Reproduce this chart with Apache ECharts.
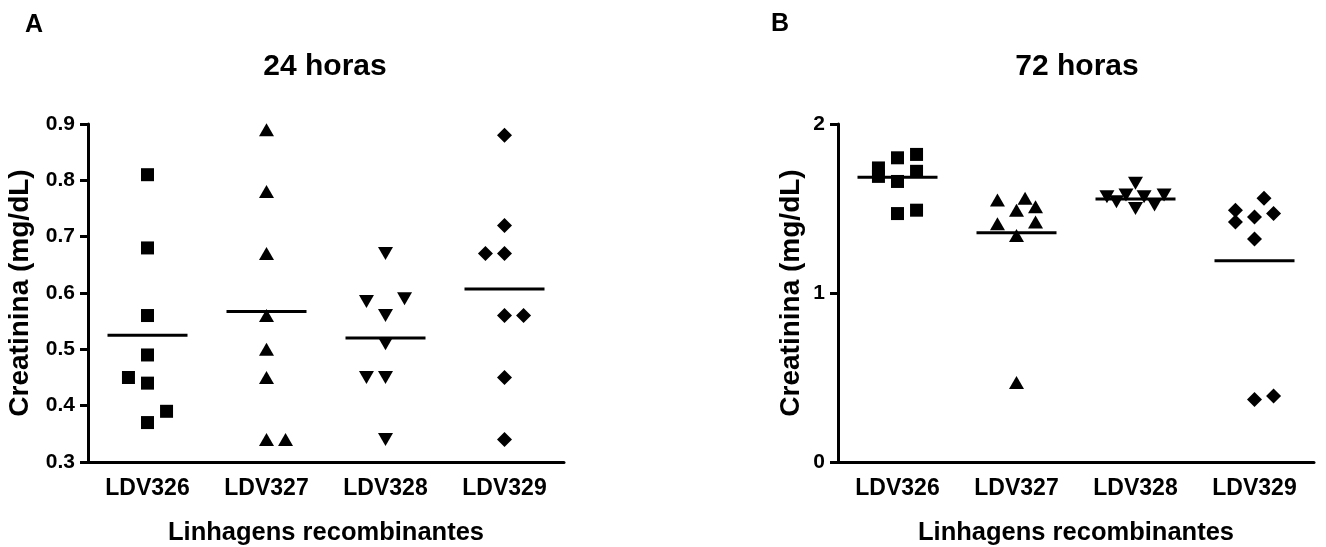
<!DOCTYPE html>
<html>
<head>
<meta charset="utf-8">
<script src="https://cdn.jsdelivr.net/npm/echarts@6/dist/echarts.min.js"></script>
<style>
  html, body { margin: 0; padding: 0; background: #fff; }
  #chart { width: 1326px; height: 547px; }
</style>
</head>
<body>
<div id="chart"></div>
<script>
// Categories (recombinant strains)
const categories = ['LDV326', 'LDV327', 'LDV328', 'LDV329'];

// Panel A - 24 horas (mg/dL), one array per strain
const h24_326 = [0.81, 0.68, 0.56, 0.49, 0.45, 0.44, 0.39, 0.37];
const h24_327 = [0.89, 0.78, 0.67, 0.56, 0.50, 0.45, 0.34, 0.34];
const h24_328 = [0.67, 0.585, 0.59, 0.56, 0.51, 0.45, 0.45, 0.34];
const h24_329 = [0.88, 0.72, 0.67, 0.67, 0.56, 0.56, 0.45, 0.34];
const h24_means = [0.525, 0.567, 0.520, 0.607];

// horizontal spread of the dots (in dot slots) as drawn in the figure
const h24_jit326 = [0, 0, 0, 0, -1, 0, 1, 0];
const h24_jit327 = [0, 0, 0, 0, 0, 0, 0, 1];
const h24_jit328 = [0, -1, 1, 0, 0, -1, 0, 0];
const h24_jit329 = [0, 0, -1, 0, 0, 1, 0, 0];

// Panel B - 72 horas
const h72_326 = [1.74, 1.69, 1.80, 1.82, 1.72, 1.66, 1.47, 1.49];
const h72_327 = [1.55, 1.56, 1.49, 1.51, 1.41, 1.42, 1.34, 0.47];
const h72_328 = [1.65, 1.57, 1.54, 1.58, 1.57, 1.58, 1.50, 1.52];
const h72_329 = [1.56, 1.49, 1.47, 1.45, 1.42, 1.32, 0.37, 0.39];
const h72_means = [1.685, 1.357, 1.556, 1.191];

const h72_jit326 = [-1, -1, 0, 1, 1, 0, 0, 1];
const h72_jit327 = [-1, 0.45, 0, 1, -1, 1, 0, 0];
const h72_jit328 = [0, -1.5, -1, -0.5, 0.45, 1.5, 0, 1];
const h72_jit329 = [0.5, -1, 1, 0, -1, 0, 0, 1];

const SLOT = 0.16; // width of one dot slot, in category units
const FONT = 'Arial, "Liberation Sans", sans-serif';

const symbols = [
    { symbol: 'rect', size: 13, rotate: 0 },
    { symbol: 'triangle', size: [15, 13], rotate: 0 },
    { symbol: 'triangle', size: [15, 13], rotate: 180 },
    { symbol: 'diamond', size: [15, 15], rotate: 0 }
];

function toPoints(catIndex, values, jitter) {
    return values.map((v, i) => [catIndex + jitter[i] * SLOT, v]);
}

function panelSeries(gridIndex, groups, jitters, means) {
    const out = groups.map((vals, c) => ({
        type: 'scatter',
        xAxisIndex: gridIndex * 2 + 1,
        yAxisIndex: gridIndex,
        symbol: symbols[c].symbol,
        symbolSize: symbols[c].size,
        symbolRotate: symbols[c].rotate,
        itemStyle: { color: '#000', opacity: 1 },
        silent: true,
        z: 3,
        data: toPoints(c, vals, jitters[c])
    }));
    // mean bars
    out.push({
        type: 'scatter',
        xAxisIndex: gridIndex * 2 + 1,
        yAxisIndex: gridIndex,
        symbol: 'rect',
        symbolSize: [80, 3],
        itemStyle: { color: '#000', opacity: 1 },
        silent: true,
        z: 4,
        data: means.map((m, c) => [c, m])
    });
    return out;
}

function catAxis(gridIndex) {
    return {
        type: 'category',
        gridIndex: gridIndex,
        data: categories,
        boundaryGap: true,
        name: 'Linhagens recombinantes',
        nameLocation: 'middle',
        nameGap: 58,
        nameTextStyle: { fontFamily: FONT, fontWeight: 'bold', fontSize: 25.5, color: '#000' },
        axisLine: { onZero: false, lineStyle: { color: '#000', width: 3 } },
        axisTick: { alignWithLabel: true, length: 7, lineStyle: { color: '#000', width: 3 } },
        axisLabel: { fontFamily: FONT, fontWeight: 'bold', fontSize: 23, color: '#000', margin: 15 },
        splitLine: { show: false }
    };
}

function posAxis(gridIndex) {
    return {
        type: 'value',
        gridIndex: gridIndex,
        min: -0.5,
        max: 3.5,
        show: false
    };
}

function valAxis(gridIndex, min, max, interval, decimals, nameGap) {
    return {
        type: 'value',
        gridIndex: gridIndex,
        min: min,
        max: max,
        interval: interval,
        name: 'Creatinina (mg/dL)',
        nameLocation: 'middle',
        nameGap: nameGap,
        nameTextStyle: { fontFamily: FONT, fontWeight: 'bold', fontSize: 28, color: '#000' },
        axisLine: { show: true, onZero: false, lineStyle: { color: '#000', width: 3 } },
        axisTick: { show: true, length: 8, lineStyle: { color: '#000', width: 3 } },
        axisLabel: {
            fontFamily: FONT, fontWeight: 'bold', fontSize: 21, color: '#000', margin: 13,
            formatter: v => v.toFixed(decimals)
        },
        splitLine: { show: false }
    };
}

const chart = echarts.init(document.getElementById('chart'), null, { renderer: 'canvas' });

function label(text, x, y, size, align) {
    return {
        type: 'text',
        x: x,
        y: y,
        silent: true,
        style: {
            text: text,
            fill: '#000',
            font: 'bold ' + size + 'px ' + FONT,
            textAlign: align,
            textVerticalAlign: 'middle'
        }
    };
}

chart.setOption({
    backgroundColor: '#fff',
    animation: false,
    graphic: [
        label('A', 25, 25, 25, 'left'),
        label('B', 771, 24, 25, 'left'),
        label('24 horas', 325, 67, 30, 'center'),
        label('72 horas', 1077, 67, 30, 'center')
    ],
    grid: [
        { left: 88, top: 124, width: 476, height: 338, outerBoundsMode: 'none' },
        { left: 838, top: 124, width: 476, height: 338, outerBoundsMode: 'none' }
    ],
    xAxis: [catAxis(0), posAxis(0), catAxis(1), posAxis(1)],
    yAxis: [
        valAxis(0, 0.3, 0.9, 0.1, 1, 54),
        valAxis(1, 0, 2, 1, 0, 33)
    ],
    series: [
        ...panelSeries(0, [h24_326, h24_327, h24_328, h24_329],
            [h24_jit326, h24_jit327, h24_jit328, h24_jit329], h24_means),
        ...panelSeries(1, [h72_326, h72_327, h72_328, h72_329],
            [h72_jit326, h72_jit327, h72_jit328, h72_jit329], h72_means)
    ]
});

window.addEventListener('resize', () => chart.resize());
</script>
</body>
</html>
